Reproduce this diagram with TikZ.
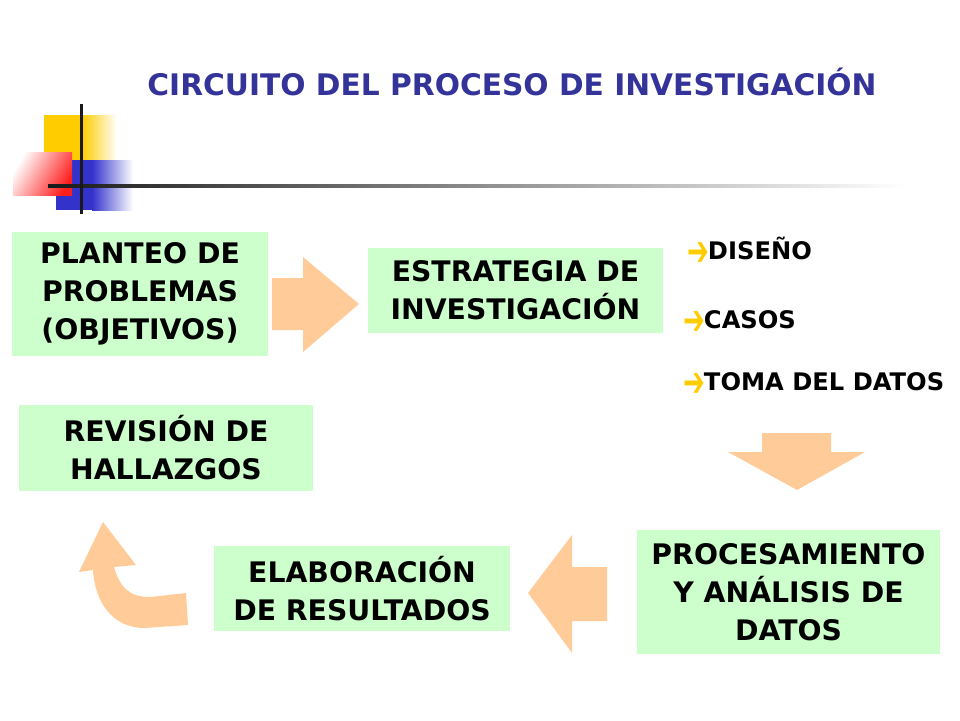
\documentclass[tikz,border=0pt]{standalone}
\usepackage{fontspec}
\setmainfont{DejaVu Sans}
\newfontfamily\symfont{DejaVu Sans}
\usepackage{tikz}
\usetikzlibrary{positioning,backgrounds}
\definecolor{boxgreen}{RGB}{204,255,204}
\definecolor{arrowpeach}{RGB}{255,204,153}
\definecolor{titleblue}{RGB}{51,51,153}
\definecolor{decoyellow}{RGB}{255,204,0}
\definecolor{decoblue}{RGB}{51,51,204}
\definecolor{decored}{RGB}{255,30,30}
\newcommand{\bulletarrow}{{\color{decoyellow}\symfont\bfseries\fontsize{26}{28}\selectfont\raisebox{-6pt}{\scalebox{1.0}[1.6]{➔}}}}

\begin{document}
\begin{tikzpicture}[
    x=1pt, y=-1pt,
    font=\bfseries,
    stage/.style={
		rectangle,
		fill=boxgreen,
		inner sep=0pt,
		text centered,
		align=center,
		font=\bfseries\fontsize{28.3}{38}\selectfont
	},
	item/.style={
		anchor=west,
		inner sep=0pt,
		font=\bfseries\fontsize{24.2}{28}\selectfont
	},
	blockarrow/.style={
		fill=arrowpeach,
		draw=none
	}
  ]
  \useasboundingbox (0,0) rectangle (960,720);

  % decoration in the corner
  \fill[decoyellow] (44,115) rectangle (82,160);
  \shade[left color=decoyellow, right color=white] (82,115) rectangle (117,160);
  \fill[decoblue] (56,160) rectangle (92,210);
  \shade[left color=decoblue, right color=white] (92,160) rectangle (133,210);
  \shade[left color=white, right color=decored, shading angle=60] (13,152) rectangle (72,195);
  \shade[left color=black!90, right color=white] (48,184.5) rectangle (905,187.5);
  \fill[black!90] (79.5,104) rectangle (82.5,214);

  % title
  \node[font=\bfseries\fontsize{29.7}{32}\selectfont, text=titleblue] (title) at (512,82)
  {CIRCUITO DEL PROCESO DE INVESTIGACIÓN};

  % the blocks
  \node[stage, minimum width=256, minimum height=124] (planteo) at (140,294)
  {PLANTEO DE\\PROBLEMAS\\(OBJETIVOS)};
  \node[stage, minimum width=295, minimum height=85] (estrategia) at (515.5,290.5)
  {ESTRATEGIA DE\\INVESTIGACIÓN};
  \node[stage, minimum width=294, minimum height=86] (revision) at (166,448)
  {REVISIÓN DE\\HALLAZGOS};
  \node[stage, minimum width=296, minimum height=85] (elaboracion) at (362,588.5)
  {ELABORACIÓN\\DE RESULTADOS};
  \node[stage, minimum width=303, minimum height=124] (procesamiento) at (788.5,592)
  {PROCESAMIENTO\\Y ANÁLISIS DE\\DATOS};

  % the list
  \node[item] (diseno) at (687,251.5) {\bulletarrow\hspace{-1pt}DISEÑO};
  \node[item] (casos) at (683,322.5) {\bulletarrow\hspace{-1pt}CASOS};
  \node[item] (toma) at (683,384.5) {\bulletarrow\hspace{-1pt}TOMA DEL DATOS};

  % block arrows
  \fill[blockarrow] (272,278) -- (303,278) -- (303,257) -- (359,304) -- (303,352) -- (303,330) -- (272,330) -- cycle;
  \fill[blockarrow] (762,433) -- (831,433) -- (831,452) -- (865,452) -- (797,490) -- (728,452) -- (762,452) -- cycle;
  \fill[blockarrow] (607,567) -- (572,567) -- (572,535) -- (528,593) -- (572,653) -- (572,621) -- (607,621) -- cycle;
  \fill[blockarrow] (103,522) -- (136,565) -- (114,567)
    .. controls (120,588) and (130,597) .. (150,597) -- (186,593) -- (188,625) -- (145,628)
    .. controls (112,628) and (95,602) .. (93,570) -- (79,572) -- cycle;

\end{tikzpicture}
\end{document}
